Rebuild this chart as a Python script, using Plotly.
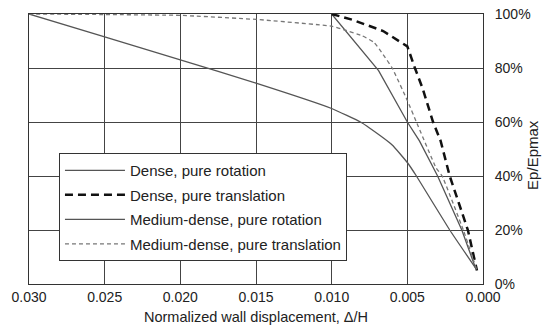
import plotly.graph_objects as go

# Dense, pure rotation
dr_x = [0.010, 0.0069, 0.0050, 0.0042, 0.0030, 0.0014, 0.0005]
dr_y = [100, 79, 60, 53, 40, 20, 6]

# Dense, pure translation
dt_x = [0.010, 0.0086, 0.0066, 0.0054, 0.0050, 0.0045, 0.0040, 0.0033, 0.0028, 0.0022, 0.0010, 0.0004]
dt_y = [100, 97.8, 93.7, 89.6, 88, 80, 72.6, 60, 53, 40, 20, 5]

# Medium-dense, pure rotation
mr_x = [0.030, 0.025, 0.020, 0.015, 0.010, 0.0081, 0.0075, 0.0060, 0.0050, 0.0044, 0.0022, 0.0005]
mr_y = [100, 91.5, 83, 74.4, 65, 60, 57.8, 51.5, 45, 40, 20, 6]

# Medium-dense, pure translation
mt_x = [0.030, 0.025, 0.020, 0.015, 0.010, 0.0091, 0.0080, 0.0072, 0.0066, 0.0060, 0.0050, 0.0044, 0.0031, 0.0027, 0.0013, 0.0004]
mt_y = [100, 99.8, 99.5, 98, 95.5, 94, 92, 89.5, 85, 80, 68, 60, 43, 40, 20, 5]

x_ticks = [0.030, 0.025, 0.020, 0.015, 0.010, 0.005, 0.000]
x_labels = ["0.030", "0.025", "0.020", "0.015", "0.010", "0.005", "0.000"]
y_ticks = [0, 20, 40, 60, 80, 100]
y_labels = ["0%", "20%", "40%", "60%", "80%", "100%"]

names = ["Dense, pure rotation", "Dense, pure translation",
         "Medium-dense, pure rotation", "Medium-dense, pure translation"]

FONT = "Liberation Sans, Arial, sans-serif"
TXT = "#222222"

fig = go.Figure()
fig.add_trace(go.Scatter(x=dr_x, y=dr_y, mode="lines", name=names[0], legendgroup="a",
                         line=dict(color="#555555", width=1.3)))
fig.add_trace(go.Scatter(x=dt_x, y=dt_y, mode="lines", name=names[1], legendgroup="b",
                         line=dict(color="#111111", width=2.5, dash="8px,5px")))
fig.add_trace(go.Scatter(x=mr_x, y=mr_y, mode="lines", name=names[2], legendgroup="c",
                         line=dict(color="#555555", width=1.3, shape="spline", smoothing=0.4)))
fig.add_trace(go.Scatter(x=mt_x, y=mt_y, mode="lines", name=names[3], legendgroup="d",
                         line=dict(color="#777777", width=1.3, dash="4px,3px",
                                   shape="spline", smoothing=0.3)))

fig.update_layout(
    width=542, height=331,
    margin=dict(l=29, r=59, t=14, b=47),
    paper_bgcolor="white", plot_bgcolor="white",
    font=dict(family=FONT, color=TXT, size=14),
    showlegend=True,
    legend=dict(x=0.066, y=0.485, xanchor="left", yanchor="top",
                bgcolor="white", bordercolor="#333333", borderwidth=1,
                font=dict(size=15, color=TXT), tracegroupgap=2,
                itemwidth=60),
    annotations=[dict(text="Ep/Epmax", xref="paper", yref="paper",
                      x=1.110, y=0.478, textangle=-90, showarrow=False,
                      xanchor="center", yanchor="middle",
                      font=dict(size=15, color=TXT, family=FONT))],
)
fig.update_xaxes(
    range=[0.030, 0.000], tickvals=x_ticks, ticktext=x_labels,
    showgrid=True, gridcolor="#444444", gridwidth=1,
    showline=True, linecolor="#333333", linewidth=1, mirror=True,
    zeroline=False, ticks="", tickfont=dict(size=14), automargin=False,
    title=dict(text="Normalized wall displacement, \u0394/H",
               font=dict(size=14.5, color=TXT), standoff=8),
)
fig.update_yaxes(
    range=[0, 100], tickvals=y_ticks, ticktext=y_labels, side="right",
    showgrid=True, gridcolor="#444444", gridwidth=1,
    showline=True, linecolor="#333333", linewidth=1, mirror=True,
    zeroline=False, ticks="", tickfont=dict(size=14), ticklabelstandoff=8,
    ticklabeloverflow="allow", automargin=False,
)

fig.write_html("out.html", config={"displayModeBar": False},
               post_script="document.body.style.margin='0';document.body.style.overflow='hidden';")
